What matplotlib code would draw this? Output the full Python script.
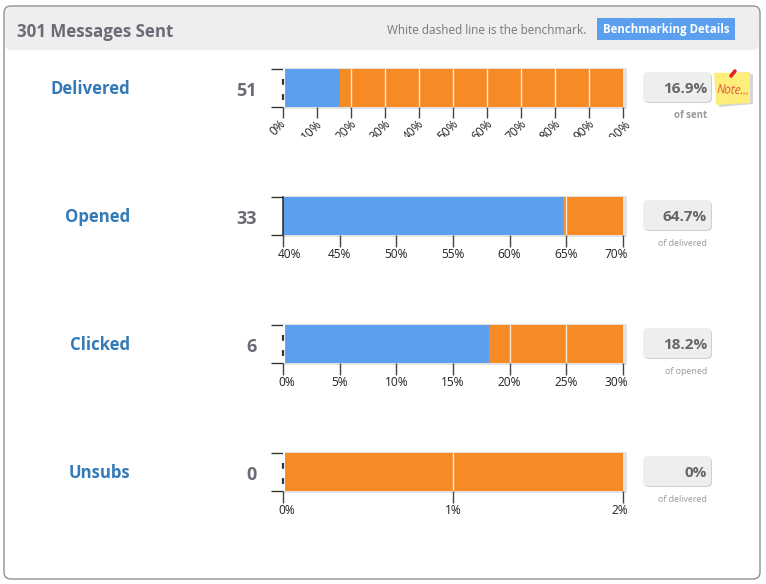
import matplotlib
matplotlib.use('Agg')
import matplotlib.pyplot as plt
from matplotlib.patches import FancyBboxPatch, Rectangle, Polygon
from matplotlib.transforms import Bbox, ScaledTranslation

plt.rcParams['font.family'] = ['Open Sans', 'DejaVu Sans']

W, H = 766, 584

names = ['Delivered', 'Opened', 'Clicked', 'Unsubs']
counts = [51, 33, 6, 0]
percent_labels = ['16.9%', '64.7%', '18.2%', '0%']
captions = ['of sent', 'of delivered', 'of opened', 'of delivered']
values = [16.9, 64.7, 18.2, 0]
axis_min = [0, 40, 0, 0]
axis_max = [100, 70, 30, 2]
ticks = [
    [0, 10, 20, 30, 40, 50, 60, 70, 80, 90, 100],
    [40, 45, 50, 55, 60, 65, 70],
    [0, 5, 10, 15, 20, 25, 30],
    [0, 1, 2],
]
row_tops = [69, 197, 325, 453]

BLUE = '#5ba0ee'
ORANGE = '#f68b25'
LINK = '#337ab7'
GREY = '#6b6b75'

fig = plt.figure(figsize=(W / 100, H / 100), dpi=100)
fig.patch.set_facecolor('white')

# Overlay in pixel coordinates for the card around the charts.
bg = fig.add_axes([0, 0, 1, 1], zorder=0)
bg.set_xlim(0, W)
bg.set_ylim(H, 0)
bg.axis('off')

bg.add_patch(FancyBboxPatch((4, 6), 756, 573, boxstyle='round,pad=0,rounding_size=7',
                            fc='white', ec='#8f8f8f', lw=1))
bg.add_patch(FancyBboxPatch((5, 7), 754, 43, boxstyle='round,pad=0,rounding_size=6',
                            fc='#eeeeee', ec='none'))
bg.text(17, 32, '301 Messages Sent', fontsize=12.2, fontweight='bold', color=GREY,
        va='center', ha='left')
bg.text(387, 30, 'White dashed line is the benchmark.', fontsize=8.45, color='#77777f',
        va='center', ha='left')
bg.add_patch(Rectangle((597, 18), 138, 22, fc=BLUE, ec='none'))
bg.text(666, 29.5, 'Benchmarking Details', fontsize=8.3, fontweight='bold', color='white',
        va='center', ha='center')

for i, name in enumerate(names):
    top = row_tops[i]
    mid = top + 18

    bg.text(130, mid + 2, name, fontsize=12.1, fontweight='bold', color=LINK,
            va='center', ha='right')
    bg.text(257, mid + 4, str(counts[i]), fontsize=13, fontweight='bold', color=GREY,
            va='center', ha='right')

    # Shadow behind the bar.
    bg.add_patch(Rectangle((284, top - 1), 343, 41, fc='#e2e2e2', ec='none'))

    # Percent box and caption.
    bg.add_patch(FancyBboxPatch((644, top + 4), 68, 30, boxstyle='round,pad=0,rounding_size=5',
                                fc='#cfcfcf', ec='none'))
    bg.add_patch(FancyBboxPatch((643, top + 3), 68, 30, boxstyle='round,pad=0,rounding_size=5',
                                fc='#eeeeee', ec='none'))
    bg.text(707, top + 20, percent_labels[i], fontsize=11, fontweight='bold', color='#666666',
            va='center', ha='right')
    bg.text(707, top + 47, captions[i], fontsize=7 if i == 0 else 6.4, color='#9a9a9a',
            va='center', ha='right', fontweight='bold' if i == 0 else 'normal')

    # The bar itself.
    ax = fig.add_axes([283 / W, 1 - (top + 38) / H, 340 / W, 38 / H], zorder=2)
    ax.patch.set_alpha(0)
    lo, hi = axis_min[i], axis_max[i]
    ax.barh(0, values[i] - lo, left=lo, height=1, color=BLUE, zorder=2)
    ax.barh(0, hi - values[i], left=values[i], height=1, color=ORANGE, zorder=1)
    ax.set_xlim(lo, hi)
    ax.set_ylim(-0.5, 0.5)

    for t in ticks[i][1:-1]:
        ax.axvline(t, color='white', lw=1, alpha=0.8, zorder=1.5)

    for side in ['top', 'right', 'bottom']:
        ax.spines[side].set_visible(False)
    ax.spines['left'].set_color('#333333')
    ax.spines['left'].set_linewidth(1.2)
    if i != 1:
        # Gap between the axis and the bar, axis shows as a few short dashes.
        ax.axvline(lo, color='white', lw=3, zorder=2.2)
        ax.spines['left'].set_linewidth(1.6)
        ax.spines['left'].set_linestyle((3.1, (1.6, 5.2)))

    ax.set_yticks([-0.5, 0.5])
    ax.set_yticklabels([])
    ax.tick_params(axis='y', length=8.5, width=1, color='#333333')

    ax.set_xticks(ticks[i])
    ax.set_xticklabels([f'{t}%' for t in ticks[i]], fontsize=8.6, color='#222222')
    ax.tick_params(axis='x', length=8 if i == 0 else 8.6, width=1, color='#444444',
                   pad=-0.5 if i == 0 else 0.5)

    labels = ax.get_xticklabels()
    nudge = fig.dpi_scale_trans
    if i == 0:
        # First row is crowded, labels lean over and get cut off underneath.
        clip = Bbox([[0, H - 137], [W, H - 100]])
        for lab in labels:
            lab.set_rotation(45)
            lab.set_ha('center')
            lab.set_clip_box(clip)
            lab.set_clip_on(True)
            lab.set_transform(lab.get_transform() + ScaledTranslation(-5 / 100, 0, nudge))
    else:
        labels[0].set_ha('left')
        labels[0].set_transform(labels[0].get_transform() + ScaledTranslation(-5 / 100, 0, nudge))
        labels[-1].set_ha('right')
        labels[-1].set_transform(labels[-1].get_transform() + ScaledTranslation(5 / 100, 0, nudge))

# Sticky note next to the first row.
bg.add_patch(Polygon([[717, 76], [753, 74], [753, 104], [719, 107]], fc='#b9b9b9', ec='none', alpha=0.6))
bg.add_patch(Polygon([[714, 73], [750, 72], [750, 103], [716, 105]], fc='#fdee7b', ec='none'))
bg.plot([731, 735], [76, 71], color='#d9232e', lw=2.6, solid_capstyle='round')
bg.text(733, 90, 'Note...', fontsize=8.4, color='#e2553a', style='italic', rotation=-3,
        va='center', ha='center')

fig.savefig('out.png', dpi=100)
